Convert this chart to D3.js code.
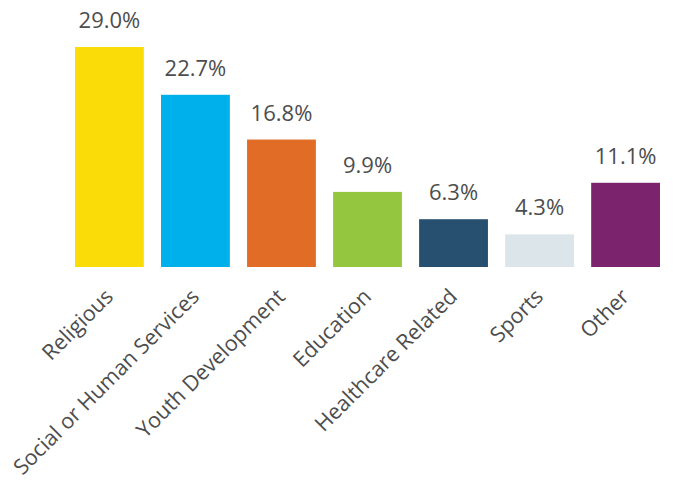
<!DOCTYPE html>
<html>
<head>
<meta charset="utf-8">
<script src="https://cdn.jsdelivr.net/npm/d3@7"></script>
<style>
  html, body { margin: 0; padding: 0; background: #fff; }
  svg text { font-family: "Open Sans", "Noto Sans", sans-serif; fill: #4d4d4d; }
</style>
</head>
<body>
<svg id="chart" width="673" height="480"></svg>
<script>
const categories = ["Religious", "Social or Human Services", "Youth Development", "Education", "Healthcare Related", "Sports", "Other"];
const values = [29.0, 22.7, 16.8, 9.9, 6.3, 4.3, 11.1];
const colors = ["#f9dc08", "#00b0ea", "#e06c26", "#95c63f", "#274f6f", "#dbe5ea", "#7b236c"];

const svg = d3.select("#chart");
const baseY = 267, topY = 47;

const x = d3.scaleBand()
  .domain(categories)
  .range([66.4, 668.6])
  .paddingInner(0.2)
  .paddingOuter(0.1);

const y = d3.scaleLinear()
  .domain([0, 29.0])
  .range([baseY, topY]);

const data = categories.map((c, i) => ({ c, v: values[i], col: colors[i] }));

// bars
svg.selectAll("rect.bar")
  .data(data)
  .join("rect")
  .attr("class", "bar")
  .attr("x", d => x(d.c))
  .attr("y", d => y(d.v))
  .attr("width", x.bandwidth())
  .attr("height", d => baseY - y(d.v))
  .attr("fill", d => d.col);

// value labels above each bar
svg.selectAll("text.val")
  .data(data)
  .join("text")
  .attr("class", "val")
  .attr("x", d => x(d.c) + x.bandwidth() / 2)
  .attr("y", d => y(d.v) - 19)
  .attr("text-anchor", "middle")
  .style("font-size", "22px")
  .text(d => d.v.toFixed(1) + "%");

// rotated category labels
svg.selectAll("text.cat")
  .data(data)
  .join("text")
  .attr("class", "cat")
  .attr("text-anchor", "end")
  .attr("transform", d => `translate(${x(d.c) + x.bandwidth() / 2 + 5},${baseY + 31}) rotate(-45)`)
  .style("font-size", "21.5px")
  .text(d => d.c);
</script>
</body>
</html>
